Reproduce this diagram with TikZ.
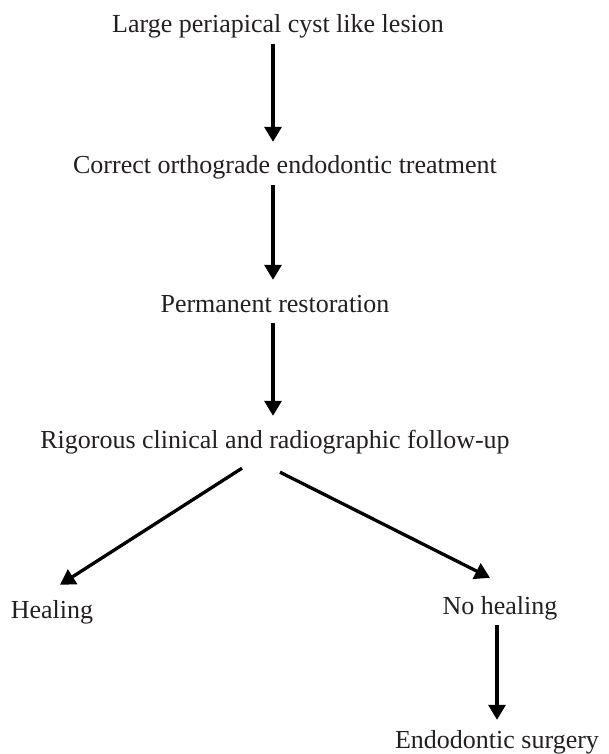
\documentclass[tikz,border=0pt]{standalone}
\usepackage{fontspec}
\setmainfont{Liberation Serif}
\usepackage{xcolor}
\usetikzlibrary{arrows.meta}
\definecolor{inkgray}{RGB}{35,31,32}

\begin{document}
\begin{tikzpicture}[x=1pt, y=-1pt,
    every node/.style={font=\fontsize{26}{30}\selectfont, text=inkgray, anchor=base,
        inner sep=4pt, text height=18pt, text depth=6pt},
    flow/.style={line width=3.3pt, -{Triangle[length=15pt,width=17pt]}},
    vflow/.style={flow, shorten >=10pt, shorten <=1pt}]

\useasboundingbox (0,0) rectangle (608,754);

% Textos
\node (lesion)      at (278,33)  {Large periapical cyst like lesion};
\node (treatment)   at (285,174) {Correct orthograde endodontic treatment};
\node (restoration) at (275,312) {Permanent restoration};
\node (follow)      at (275,448) {Rigorous clinical and radiographic follow-up};
\node (heal)        at (52,618)  {Healing};
\node (noheal)      at (500,614) {No healing};
\node (surgery)     at (497,748) {Endodontic surgery};

\coordinate (spine) at (273,0);

% Flechas verticales
\foreach \a/\b in {lesion/treatment, treatment/restoration, restoration/follow} {
    \draw[vflow] (\a.south -| spine) -- (\b.north -| spine);
}
\draw[vflow, shorten >=6pt] ([xshift=-3pt]noheal.south) -- (surgery.north);

% Ramas
\draw[flow] ([xshift=-33pt,yshift=-10pt]follow.south) -- ([xshift=8pt,yshift=11pt]heal.north);
\draw[flow] ([xshift=5pt,yshift=-14pt]follow.south) -- ([xshift=-10pt,yshift=14pt]noheal.north);

\end{tikzpicture}
\end{document}
